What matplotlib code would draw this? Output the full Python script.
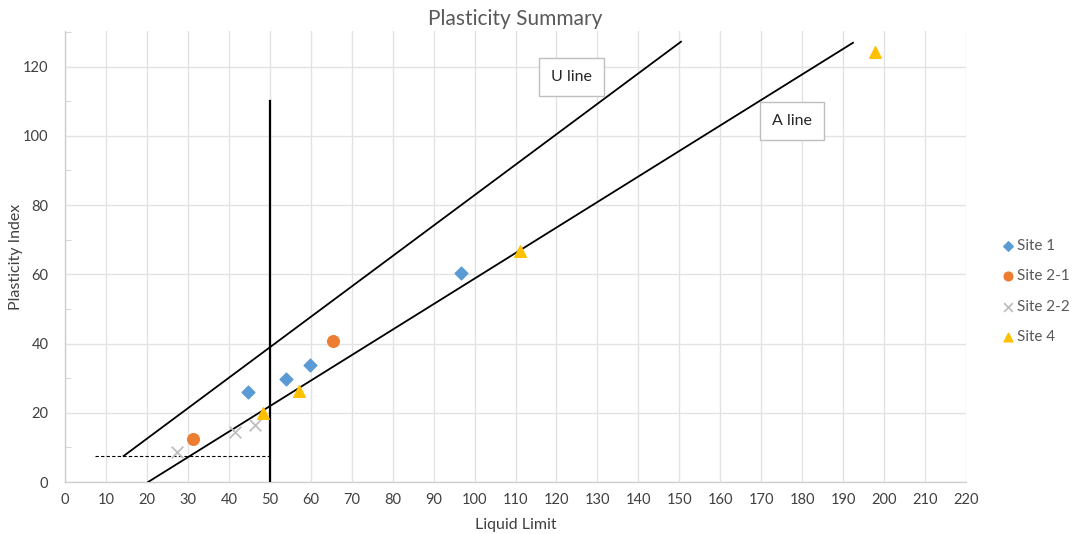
import matplotlib
matplotlib.use("Agg")
import matplotlib.pyplot as plt
from matplotlib.ticker import MultipleLocator

plt.rcParams['font.family'] = ['Lato', 'DejaVu Sans']

# Data
site1_ll = [44.7, 54.0, 59.8, 96.7]
site1_pi = [26.0, 29.7, 33.7, 60.3]
site21_ll = [31.3, 65.4]
site21_pi = [12.4, 40.7]
site22_ll = [27.4, 41.5, 46.4]
site22_pi = [8.7, 14.4, 16.4]
site4_ll = [48.4, 57.1, 111.1, 197.8]
site4_pi = [19.9, 26.2, 66.6, 124.3]

u_line_ll = [14.3, 150.4]
u_line_pi = [7.5, 127.2]
a_line_ll = [20.3, 192.4]
a_line_pi = [0.0, 126.9]
ll50_x = [50, 50]
ll50_y = [0, 110]
cl_ml_x = [7.3, 50]
cl_ml_y = [7.5, 7.5]

x_ticks = list(range(0, 221, 10))
y_ticks = list(range(0, 121, 20))

fig = plt.figure(figsize=(10.72, 5.34), dpi=100)
ax = fig.add_axes([65/1072, 1-482/534, (966-65)/1072, (482-31)/534])

grid_c = '#e3e3e3'
ax.set_xlim(0, 220)
ax.set_ylim(0, 130.3)
ax.set_xticks(x_ticks)
ax.set_yticks(y_ticks)
ax.yaxis.set_minor_locator(MultipleLocator(10))
ax.grid(True, which='major', color=grid_c, linewidth=1.0)
ax.set_axisbelow(True)
for s in ['top', 'right']:
    ax.spines[s].set_visible(False)
for s in ['left', 'bottom']:
    ax.spines[s].set_color('#d0d0d0')
    ax.spines[s].set_linewidth(1.0)
ax.tick_params(axis='both', which='major', length=0, labelsize=10.5, colors='#404040', pad=8)
ax.tick_params(axis='y', which='minor', length=4, direction='in', color='#d0d0d0')
ax.tick_params(axis='y', which='major', pad=12)

# Lines
ax.plot(u_line_ll, u_line_pi, color='black', lw=1.3, zorder=3)
ax.plot(a_line_ll, a_line_pi, color='black', lw=1.3, zorder=3)
ax.plot(ll50_x, ll50_y, color='black', lw=1.6, zorder=3)
ax.plot(cl_ml_x, cl_ml_y, color='black', lw=0.8, ls=(0, (3, 2)), zorder=3)

# Scatter
ax.scatter(site1_ll, site1_pi, marker='D', s=42, color='#5b9bd5', label='Site 1', zorder=4)
ax.scatter(site21_ll, site21_pi, marker='o', s=70, color='#ed7d31', label='Site 2-1', zorder=4)
ax.scatter(site22_ll, site22_pi, marker='x', s=70, color='#bfbfbf', linewidths=1.3, label='Site 2-2', zorder=4)
ax.scatter(site4_ll, site4_pi, marker='^', s=70, color='#ffc000', label='Site 4', zorder=4)

# Text boxes
box = dict(boxstyle='square,pad=0.75', facecolor='white', edgecolor='#bfbfbf', linewidth=1.0)
ax.text(123.6, 117.1, 'U line', fontsize=11.5, color='#262626', ha='center', va='center', bbox=box, zorder=5)
ax.text(177.5, 104.4, 'A line', fontsize=11.5, color='#262626', ha='center', va='center', bbox=box, zorder=5)

ax.set_title('Plasticity Summary', fontsize=15, color='#595959', pad=4)
ax.set_xlabel('Liquid Limit', fontsize=11.5, color='#404040', labelpad=8)
ax.set_ylabel('Plasticity Index', fontsize=11.5, color='#404040')
ax.yaxis.set_label_coords(-0.047, 0.5)

leg = fig.legend(loc='center left', bbox_to_anchor=(1002/1072, 1-291.5/534), frameon=False,
                 fontsize=11, labelcolor='#595959', handletextpad=0.15,
                 handlelength=0.8, borderpad=0, borderaxespad=0,
                 labelspacing=1.05, markerscale=0.75)

fig.savefig('out.png', dpi=100)
